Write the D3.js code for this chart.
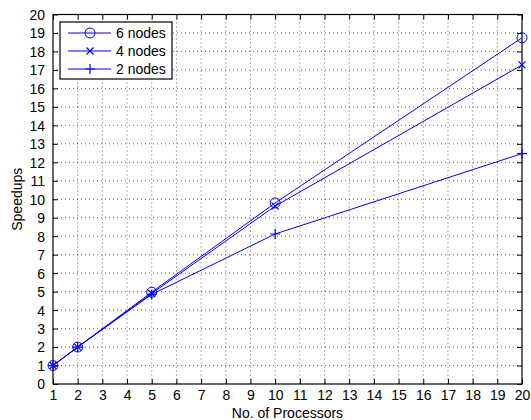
<!DOCTYPE html>
<html><head><meta charset="utf-8">
<script src="https://cdn.jsdelivr.net/npm/d3@7"></script>
<style>body{margin:0;background:#fff;} text{font-family:"Liberation Sans",Arial,sans-serif;}</style>
</head><body><svg id="c" width="531" height="420"></svg>
<script>
const procs = [1, 2, 5, 10, 20];
const nodes6 = [1, 2, 4.97, 9.8, 18.74];
const nodes4 = [1, 2, 4.9, 9.63, 17.27];
const nodes2 = [1, 2, 4.85, 8.12, 12.47];
const seriesNames = ["6 nodes", "4 nodes", "2 nodes"];
const xTicks = d3.range(1, 21);
const yTicks = d3.range(0, 21);

const svg = d3.select("#c");
const L = 53, R = 522, T = 14.5, B = 384;
const x = d3.scaleLinear().domain([1, 20]).range([L, R]);
const y = d3.scaleLinear().domain([0, 20]).range([B, T]);
const blue = "#0000ff";
const FS = 14;

// grid
const g = svg.append("g");
g.selectAll(".gx").data(xTicks.slice(1, -1)).enter().append("line")
  .attr("x1", d => x(d)).attr("x2", d => x(d)).attr("y1", T).attr("y2", B)
  .attr("stroke", "#000").attr("stroke-width", 1).attr("stroke-dasharray", "1,3").attr("opacity", 0.6);
g.selectAll(".gy").data(yTicks.slice(1, -1)).enter().append("line")
  .attr("y1", d => y(d)).attr("y2", d => y(d)).attr("x1", L).attr("x2", R)
  .attr("stroke", "#000").attr("stroke-width", 1).attr("stroke-dasharray", "1,3").attr("opacity", 0.6);

// axes with inward ticks
const tl = 5;
const ax = svg.append("g").attr("transform", `translate(0,${B})`)
  .call(d3.axisBottom(x).tickValues(xTicks).tickSizeInner(-tl).tickSizeOuter(0).tickPadding(6));
const axT = svg.append("g").attr("transform", `translate(0,${T})`)
  .call(d3.axisTop(x).tickValues(xTicks).tickSizeInner(-tl).tickSizeOuter(0).tickFormat(""));
const ay = svg.append("g").attr("transform", `translate(${L},0)`)
  .call(d3.axisLeft(y).tickValues(yTicks).tickSizeInner(-tl).tickSizeOuter(0).tickPadding(8));
const ayR = svg.append("g").attr("transform", `translate(${R},0)`)
  .call(d3.axisRight(y).tickValues(yTicks).tickSizeInner(-tl).tickSizeOuter(0).tickFormat(""));
[ax, axT, ay, ayR].forEach(a => {
  a.select(".domain").remove();
  a.selectAll("line").attr("stroke", "#000");
  a.selectAll("text").attr("font-size", FS).attr("fill", "#000").attr("font-family", '"Liberation Sans",Arial,sans-serif');
});
ay.selectAll("text").attr("dy", "0.35em");
svg.append("rect").attr("x", L).attr("y", T).attr("width", R - L).attr("height", B - T)
  .attr("fill", "none").attr("stroke", "#000").attr("stroke-width", 1.2);

// axis labels
svg.append("text").attr("x", (L + R) / 2).attr("y", 418).attr("text-anchor", "middle").attr("font-size", FS).text("No. of Processors");
svg.append("text").attr("transform", `translate(22,${(T + B) / 2}) rotate(-90)`).attr("text-anchor", "middle").attr("font-size", FS).text("Speedups");

// markers
function marker(sel, type, cx, cy) {
  if (type === "o") sel.append("circle").attr("cx", cx).attr("cy", cy).attr("r", 5).attr("fill", "none").attr("stroke", blue).attr("stroke-width", 1);
  else if (type === "x") {
    const s = 3.5;
    sel.append("path").attr("d", `M${cx - s},${cy - s}L${cx + s},${cy + s}M${cx - s},${cy + s}L${cx + s},${cy - s}`).attr("stroke", blue).attr("stroke-width", 1.2);
  } else {
    const s = 5;
    sel.append("path").attr("d", `M${cx - s},${cy}L${cx + s},${cy}M${cx},${cy - s}L${cx},${cy + s}`).attr("stroke", blue).attr("stroke-width", 1.2);
  }
}
const series = [nodes6, nodes4, nodes2];
const types = ["o", "x", "+"];
const line = d3.line().x((d, i) => x(procs[i])).y(d => y(d));
series.forEach((s, k) => {
  svg.append("path").attr("d", line(s)).attr("fill", "none").attr("stroke", blue).attr("stroke-width", 1);
  const mg = svg.append("g");
  s.forEach((v, i) => marker(mg, types[k], x(procs[i]), y(v)));
});

// legend
const lg = svg.append("g");
lg.append("rect").attr("x", 60).attr("y", 22).attr("width", 112).attr("height", 57).attr("fill", "#fff").attr("stroke", "#000").attr("stroke-width", 1.2);
seriesNames.forEach((n, k) => {
  const ly = 33 + k * 18;
  lg.append("line").attr("x1", 68).attr("x2", 111).attr("y1", ly).attr("y2", ly).attr("stroke", blue).attr("stroke-width", 1);
  marker(lg, types[k], 90, ly);
  lg.append("text").attr("x", 116).attr("y", ly).attr("dy", "0.35em").attr("font-size", FS).text(n);
});
</script></body></html>
